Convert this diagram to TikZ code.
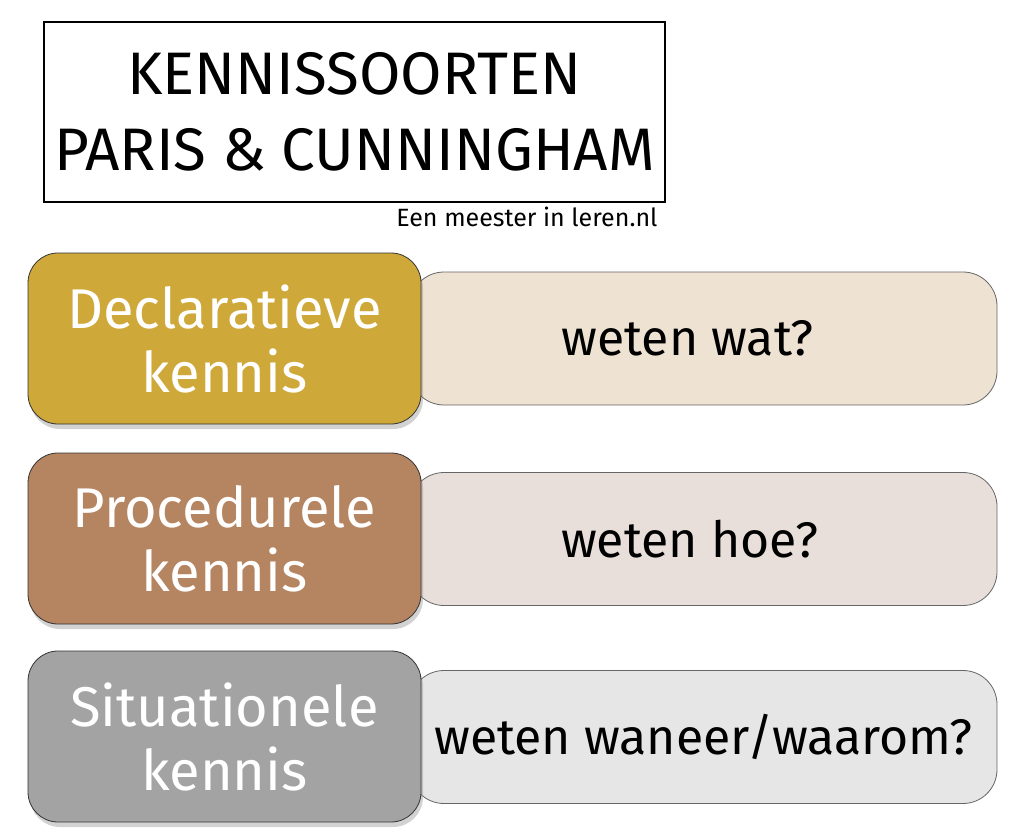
\documentclass[tikz,border=0pt]{standalone}
\usepackage{fontspec}
\setmainfont{Fira Sans}
\usetikzlibrary{shadows}
\definecolor{goud}{HTML}{CFA83A}
\definecolor{bruin}{HTML}{B58461}
\definecolor{grijs}{HTML}{A3A3A3}
\definecolor{goudlicht}{HTML}{EEE2D3}
\definecolor{bruinlicht}{HTML}{E8DFDA}
\definecolor{grijslicht}{HTML}{E6E6E6}
\tikzset{soort/.style={draw=black!80, line width=0.8pt, rounded corners=30pt,
		minimum width=393pt, minimum height=171pt, align=center, text=white,
		font=\fontsize{56}{64}\selectfont,
		drop shadow={shadow xshift=2pt, shadow yshift=-5pt, opacity=0.35}},
	vraag/.style={draw=black!60, line width=0.8pt, rounded corners=34pt,
		minimum width=587pt, minimum height=133pt,
		font=\fontsize{50}{56}\selectfont, text=black}}
\newcommand{\kop}[2]{\fontsize{#1}{#2}\selectfont}

\begin{document}
\begin{tikzpicture}[x=1pt,y=-1pt]
		\useasboundingbox[fill=white] (0,0) rectangle (1024,837);
		
		\node[draw, line width=2.5pt, minimum width=621pt, minimum height=180pt, align=center,
			inner sep=0pt, font=\kop{60}{76}] (titel) at (354.5,112) {KENNISSOORTEN\\PARIS \& CUNNINGHAM};
		\node[anchor=east, font=\kop{25}{30}] (bron) at (661,217) {Een meester in leren.nl};
		
		\node[vraag, fill=goudlicht] (wat) at (703.5,338.5) {weten wat?\hspace*{32pt}};
		\node[vraag, fill=bruinlicht] (hoe) at (703.5,539) {weten hoe?\hspace*{28pt}};
		\node[vraag, fill=grijslicht] (waarom) at (703.5,737) {weten waneer/waarom?};
		
		\node[soort, fill=goud] (decl) at (224.5,338.5) {Declaratieve\\kennis};
		\node[soort, fill=bruin] (proc) at (224.5,538.5) {Procedurele\\kennis};
		\node[soort, fill=grijs] (sit) at (224.5,736.5) {Situationele\\kennis};
		\end{tikzpicture}
\end{document}
